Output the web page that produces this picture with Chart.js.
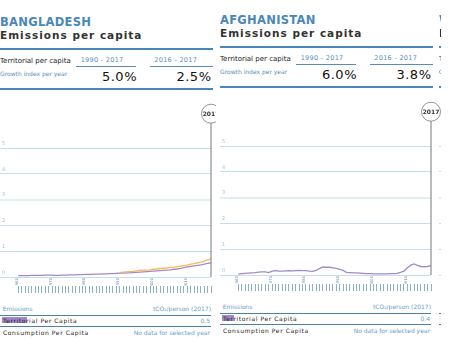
<!DOCTYPE html>
<html>
<head>
<meta charset="utf-8">
<script src="https://cdn.jsdelivr.net/npm/chart.js@4.4.0/dist/chart.umd.min.js"></script>
<style>
html, body { margin: 0; padding: 0; background: #fff; }
body { width: 450px; height: 353px; overflow: hidden; font-family: "DejaVu Sans", sans-serif; }
#board { position: absolute; left: 0; top: 0; width: 441px; height: 353px; overflow: hidden; }
.panel { position: absolute; height: 353px; overflow: hidden; }
.panel div { position: absolute; white-space: nowrap; }
.country { left: 0; top: 17px; font-size: 11.5px; line-height: 11.5px; font-weight: bold; color: #4a87b9; letter-spacing: .3px; }
.title { left: 0; top: 29.8px; font-size: 10.5px; line-height: 10.5px; font-weight: bold; color: #333; letter-spacing: 1px; }
.rule { left: 0; width: 213px; height: 2px; background: #4a87b9; }
.lbl { left: 0; top: 58.4px; font-size: 7px; line-height: 7px; color: #222; }
.growth { left: 0; top: 70.9px; font-size: 6px; line-height: 6px; color: #5b8cb8; }
.period { top: 56.5px; font-size: 6.5px; line-height: 6.5px; color: #5b8cb8; letter-spacing: .3px; }
.uline { top: 65.5px; height: 1px; background: #5b8cb8; }
.big { top: 70px; font-size: 13px; line-height: 13px; color: #111; letter-spacing: .5px; text-align: right; }
.thead { top: 306.4px; font-size: 6px; line-height: 6px; color: #6b9cc4; }
.tline { left: 0; width: 211px; height: 1px; background: #4a7fab; }
.swatch { left: 1.7px; height: 6px; }
.row { left: 3px; font-size: 6px; line-height: 6px; color: #222; letter-spacing: .6px; }
.val { font-size: 6px; line-height: 6px; color: #6b9cc4; text-align: right; width: 120px; left: 90px; }
canvas { position: absolute; left: 0; top: 100px; }
</style>
</head>
<body>
<div id="board"></div>
<script>
// years on the x axis and the year picked in the dashboard
const years = [1960, 1961, 1962, 1963, 1964, 1965, 1966, 1967, 1968, 1969,
  1970, 1971, 1972, 1973, 1974, 1975, 1976, 1977, 1978, 1979,
  1980, 1981, 1982, 1983, 1984, 1985, 1986, 1987, 1988, 1989,
  1990, 1991, 1992, 1993, 1994, 1995, 1996, 1997, 1998, 1999,
  2000, 2001, 2002, 2003, 2004, 2005, 2006, 2007, 2008, 2009,
  2010, 2011, 2012, 2013, 2014, 2015, 2016, 2017];
const decadeTicks = [1960, 1970, 1980, 1990, 2000, 2010];
const selectedYear = 2017;

// tCO2 per person
const bangladeshTerritorial = [0.05, 0.05, 0.05, 0.05, 0.06, 0.06, 0.06, 0.06, 0.07, 0.07,
  0.07, 0.06, 0.06, 0.07, 0.07, 0.08, 0.08, 0.08, 0.09, 0.09,
  0.10, 0.10, 0.10, 0.11, 0.11, 0.12, 0.12, 0.13, 0.13, 0.14,
  0.15, 0.15, 0.16, 0.16, 0.17, 0.18, 0.19, 0.20, 0.21, 0.22,
  0.23, 0.24, 0.25, 0.26, 0.27, 0.28, 0.30, 0.31, 0.33, 0.36,
  0.39, 0.41, 0.43, 0.45, 0.47, 0.50, 0.53, 0.55];
const bangladeshConsumption = [null, null, null, null, null, null, null, null, null, null,
  null, null, null, null, null, null, null, null, null, null,
  null, null, null, null, null, null, null, null, null, null,
  0.17, 0.19, 0.20, 0.21, 0.22, 0.24, 0.26, 0.27, 0.27, 0.28,
  0.30, 0.31, 0.33, 0.34, 0.35, 0.37, 0.38, 0.40, 0.42, 0.44,
  0.46, 0.50, 0.52, 0.55, 0.58, 0.62, 0.66, 0.70];
const afghanistanTerritorial = [0.03, 0.05, 0.06, 0.07, 0.08, 0.09, 0.11, 0.12, 0.12, 0.09,
  0.15, 0.17, 0.15, 0.15, 0.16, 0.17, 0.16, 0.17, 0.18, 0.17,
  0.17, 0.15, 0.14, 0.18, 0.25, 0.31, 0.30, 0.30, 0.28, 0.26,
  0.22, 0.18, 0.10, 0.09, 0.08, 0.08, 0.07, 0.06, 0.05, 0.05,
  0.04, 0.04, 0.04, 0.04, 0.04, 0.05, 0.05, 0.06, 0.10, 0.15,
  0.28, 0.38, 0.43, 0.37, 0.33, 0.32, 0.33, 0.36];

const purple = '#a18acb';
const orange = '#f7b556';

// bubble + line on the selected year
const selectedYearMarker = {
  id: 'selectedYearMarker',
  afterDatasetsDraw(chart) {
    const { ctx, chartArea, scales } = chart;
    const x = scales.x.getPixelForValue(selectedYear);
    const r = 9.5, cy = chartArea.top - 8.5;
    ctx.save();
    ctx.strokeStyle = '#777';
    ctx.lineWidth = 1;
    ctx.beginPath();
    ctx.moveTo(x, cy + r);
    ctx.lineTo(x, chartArea.bottom);
    ctx.stroke();
    ctx.beginPath();
    ctx.arc(x, cy, r, 0, Math.PI * 2);
    ctx.fillStyle = '#fff';
    ctx.fill();
    ctx.strokeStyle = '#666';
    ctx.lineWidth = 0.7;
    ctx.stroke();
    ctx.fillStyle = '#333';
    ctx.font = 'bold 6px "DejaVu Sans"';
    ctx.textAlign = 'center';
    ctx.textBaseline = 'middle';
    ctx.fillText(String(selectedYear), x, cy + 0.5);
    ctx.restore();
  }
};

function makeChart(canvas, series) {
  return new Chart(canvas, {
    type: 'line',
    data: {
      datasets: series.map(s => ({
        data: years.map((yr, i) => ({ x: yr, y: s.values[i] })),
        borderColor: s.color,
        borderWidth: 1.3,
        pointRadius: 0,
        tension: 0,
        clip: false
      }))
    },
    options: {
      responsive: false,
      animation: false,
      devicePixelRatio: 1,
      layout: { padding: { top: 22.2, right: 11, left: 0, bottom: 0 } },
      plugins: { legend: { display: false }, tooltip: { enabled: false } },
      scales: {
        // decade labels, right under the zero line
        x: {
          type: 'linear', position: 'bottom', min: 1954.6, max: selectedYear, weight: 0,
          afterBuildTicks: s => { s.ticks = decadeTicks.map(v => ({ value: v })); },
          afterFit: s => { s.height = 9; },
          grid: { display: false, drawTicks: false },
          border: { display: false },
          ticks: {
            minRotation: 90, maxRotation: 90, autoSkip: false, padding: 1, labelOffset: -1.5,
            color: '#557fa2', font: { size: 3.7, family: 'DejaVu Sans' },
            callback: v => String(v)
          }
        },
        // one tick mark per year, below the labels
        x2: {
          type: 'linear', axis: 'x', position: 'bottom', min: 1954.6, max: selectedYear, weight: 1,
          afterBuildTicks: s => { s.ticks = years.map(v => ({ value: v })); },
          afterFit: s => { s.height = 8; },
          grid: { drawOnChartArea: false, drawTicks: true, tickLength: 7, color: '#8db0c9', lineWidth: 1 },
          border: { display: false },
          ticks: { display: false }
        },
        y: {
          min: 0, max: 6,
          afterFit: s => { s.width = 0; },
          grid: {
            drawTicks: false,
            color: c => c.tick.value === 6 ? 'rgba(0,0,0,0)' : (c.tick.value === 3 ? '#dff0f1' : '#c2e0eb'),
            lineWidth: c => c.tick.value === 3 ? 2 : 1
          },
          border: { display: false },
          ticks: {
            mirror: true, padding: 2, labelOffset: -4.5, stepSize: 1,
            color: '#9cc6dc', font: { size: 5, family: 'DejaVu Sans' },
            callback: v => v === 6 ? '' : String(v)
          }
        }
      }
    },
    plugins: [selectedYearMarker]
  });
}

const panels = [
  { left: 0, top: 0, width: 216, country: 'BANGLADESH', full: '5.0%', recent: '2.5%', value: '0.5', swatchW: 25,
    series: [{ values: bangladeshConsumption, color: orange }, { values: bangladeshTerritorial, color: purple }] },
  { left: 220, top: -2, width: 222, country: 'AFGHANISTAN', full: '6.0%', recent: '3.8%', value: '0.4', swatchW: 12,
    series: [{ values: afghanistanTerritorial, color: purple }] },
  { left: 439, top: -2, width: 4, country: 'WORLD', full: '', recent: '', value: '', swatchW: 25, consumption: true,
    series: [] }
];

const board = document.getElementById('board');
panels.forEach(p => {
  const el = document.createElement('div');
  el.className = 'panel';
  el.style.left = p.left + 'px';
  el.style.top = p.top + 'px';
  el.style.width = p.width + 'px';
  el.innerHTML =
    '<div class="country">' + p.country + '</div>' +
    '<div class="title">Emissions per capita</div>' +
    '<div class="rule" style="top:47.5px"></div>' +
    '<div class="lbl">Territorial per capita</div>' +
    '<div class="growth">Growth index per year</div>' +
    '<div class="period" style="left:80.7px">1990 - 2017</div>' +
    '<div class="uline" style="left:76px;width:60px"></div>' +
    '<div class="period" style="left:154.3px">2016 - 2017</div>' +
    '<div class="uline" style="left:150px;width:63px"></div>' +
    '<div class="big" style="left:80px;width:57px">' + p.full + '</div>' +
    '<div class="big" style="left:150px;width:61.5px">' + p.recent + '</div>' +
    '<div class="rule" style="top:87.5px"></div>' +
    '<canvas width="222" height="194"></canvas>' +
    '<div class="thead" style="left:2.7px">Emissions</div>' +
    '<div class="thead" style="left:90px;width:121px;text-align:right">tCO₂/person (2017)</div>' +
    '<div class="tline" style="top:314.5px"></div>' +
    '<div class="swatch" style="top:317.3px;width:' + p.swatchW + 'px;background:' + purple + '"></div>' +
    '<div class="row" style="top:317.6px">Territorial Per Capita</div>' +
    '<div class="val" style="top:317.6px">' + p.value + '</div>' +
    '<div class="tline" style="top:325.5px"></div>' +
    (p.consumption ? '<div class="swatch" style="top:329px;width:25px;background:' + orange + '"></div>' : '') +
    '<div class="row" style="top:329.9px">Consumption Per Capita</div>' +
    '<div class="val" style="top:329.9px">No data for selected year</div>';
  board.appendChild(el);
  makeChart(el.querySelector('canvas'), p.series);
});
</script>
</body>
</html>
